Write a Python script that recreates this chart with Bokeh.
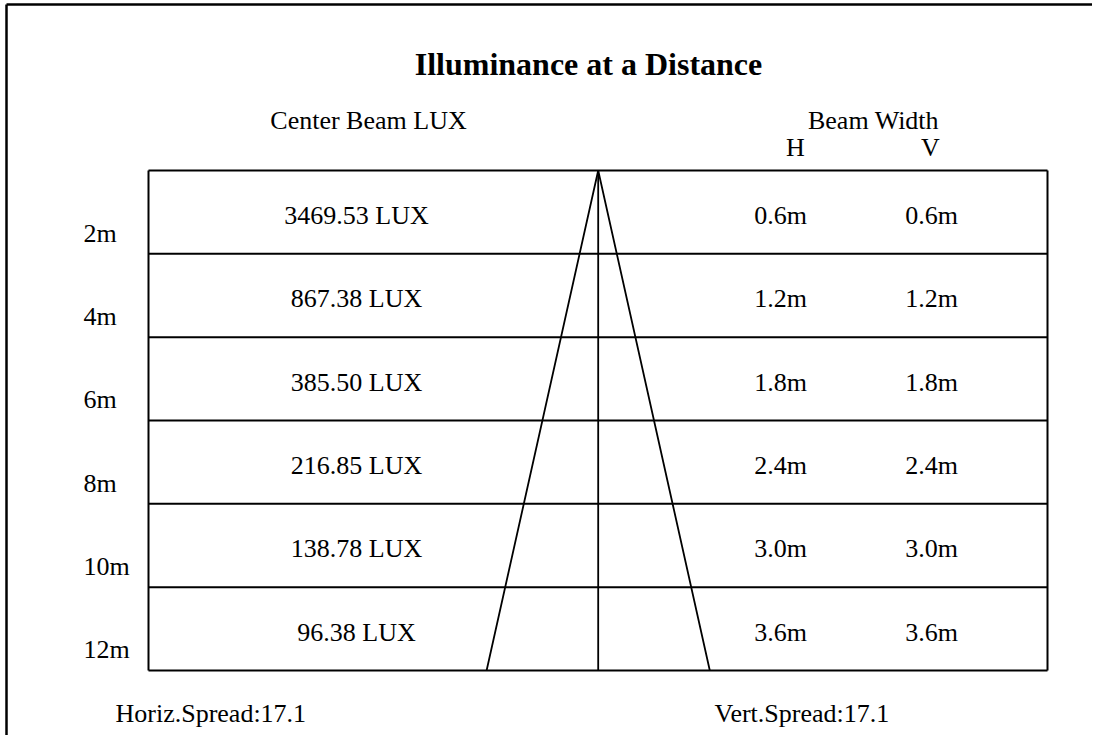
from bokeh.plotting import figure
from bokeh.models import ColumnDataSource, Range1d
from bokeh.core.properties import value
from bokeh.embed import file_html
from bokeh.resources import INLINE

# ---- data ----
distances_m = [2, 4, 6, 8, 10, 12]
distance_labels = ["2m", "4m", "6m", "8m", "10m", "12m"]
center_lux = [3469.53, 867.38, 385.50, 216.85, 138.78, 96.38]
beam_h = [0.6, 1.2, 1.8, 2.4, 3.0, 3.6]
beam_v = [0.6, 1.2, 1.8, 2.4, 3.0, 3.6]
horiz_spread = 17.1
vert_spread = 17.1
title = "Illuminance at a Distance"

# ---- layout (picture pixel coordinates) ----
W, H = 1092, 735
FONT = value("Liberation Serif")
FS = value("26px")

p = figure(width=W, height=H, output_backend="svg", toolbar_location=None,
           x_range=Range1d(0, W), y_range=Range1d(H, 0),
           min_border=0)
p.axis.visible = False
p.grid.visible = False
p.outline_line_color = None
p.background_fill_color = "white"
p.border_fill_color = "white"

# table geometry
TL, TR, TT, TB = 148, 1047, 170, 670
CX = 597.7
dmax = max(distances_m)
def ypos(d):
    return TT + (TB - TT) * d / dmax
px_per_m = 62.0

# outer frame (left/top visible)
p.line([6, 6], [H, 4], line_color="black", line_width=2.5)
p.line([6, W], [4, 4], line_color="black", line_width=2.5)

# title & headers
p.text(x=[588], y=[63], text=[title], text_font=FONT, text_font_size=value("32px"),
       text_font_style="bold", text_align="center", text_baseline="alphabetic", text_color="black")
p.text(x=[368, 873], y=[120, 120], text=["Center Beam LUX", "Beam Width"], text_font=FONT,
       text_font_size=FS, text_align="center", text_baseline="alphabetic", text_color="black")
p.text(x=[795, 930], y=[147, 147], text=["H", "V"], text_font=FONT,
       text_font_size=FS, text_align="center", text_baseline="alphabetic", text_color="black")

# table rectangle & row separators
bounds = [0] + distances_m
p.multi_line(xs=[[TL, TR] for _ in bounds], ys=[[ypos(d), ypos(d)] for d in bounds],
             line_color="black", line_width=2)
p.line([TL, TL], [TT, TB], line_color="black", line_width=2)
p.line([TR, TR], [TT, TB], line_color="black", line_width=2)

# beam cone and center axis
p.line([CX, CX], [ypos(0), ypos(dmax)], line_color="black", line_width=1.8)
half = beam_h[-1] / 2 * px_per_m
p.line([CX - half, CX, CX + half], [ypos(dmax), ypos(0), ypos(dmax)],
       line_color="black", line_width=1.8)

# row texts
prev = [0] + distances_m[:-1]
src = ColumnDataSource(dict(
    lab=distance_labels,
    lab_y=[ypos(d) - 20.7 for d in distances_m],
    val_y=[ypos(d0) + 45 for d0 in prev],
    lux=[f"{v:.2f} LUX" for v in center_lux],
    bh=[f"{v:.1f}m" for v in beam_h],
    bv=[f"{v:.1f}m" for v in beam_v],
    lab_x=[83] * len(distances_m),
    lux_x=[356] * len(distances_m),
    bh_x=[780] * len(distances_m),
    bv_x=[931] * len(distances_m),
))
p.text(x="lab_x", y="lab_y", text="lab", source=src, text_font=FONT, text_font_size=FS,
       text_align="left", text_baseline="alphabetic", text_color="black")
p.text(x="lux_x", y="val_y", text="lux", source=src, text_font=FONT, text_font_size=FS,
       text_align="center", text_baseline="alphabetic", text_color="black")
p.text(x="bh_x", y="val_y", text="bh", source=src, text_font=FONT, text_font_size=FS,
       text_align="center", text_baseline="alphabetic", text_color="black")
p.text(x="bv_x", y="val_y", text="bv", source=src, text_font=FONT, text_font_size=FS,
       text_align="center", text_baseline="alphabetic", text_color="black")

# spreads
p.text(x=[115, 714], y=[713, 713],
       text=[f"Horiz.Spread:{horiz_spread}", f"Vert.Spread:{vert_spread}"],
       text_font=FONT, text_font_size=FS, text_align="left", text_baseline="alphabetic",
       text_color="black")

open("out.html", "w").write(file_html(p, INLINE))
